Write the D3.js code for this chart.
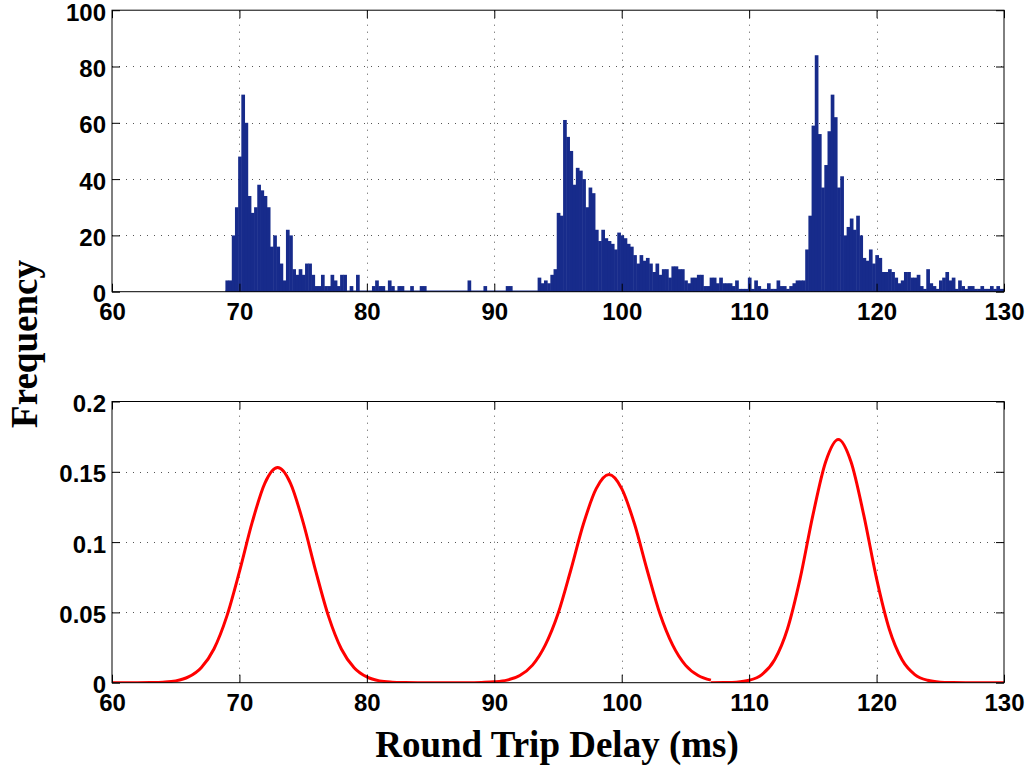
<!DOCTYPE html>
<html>
<head>
<meta charset="utf-8">
<script src="https://cdn.jsdelivr.net/npm/d3@7"></script>
<style>
  body { margin: 0; background: #fff; }
  svg { display: block; }
</style>
</head>
<body>
<div id="chart"></div>
<script>
// histogram: bin counts, 0.25 ms bins starting at 68.9 ms
const binStart = 68.9;
const binWidth = 0.25;
const countsFirst = [4, 4, 20, 30, 48, 70, 60, 34, 28, 30, 38, 36, 34, 30, 16, 20, 16, 10, 4, 22, 20,
  8, 6, 8, 6, 10, 10, 6, 2, 2, 6, 2, 2, 6, 4, 2, 6, 6, 0, 2, 0, 6, 0, 0, 0, 0, 2, 4, 2, 2, 0,
  4, 2, 0, 2, 2, 0, 0, 2, 0, 0, 2, 2];
const countsGap = [0, 0, 0, 0, 0, 0, 0, 0, 0, 0, 0, 0, 0, 4, 0, 0, 0, 0, 2, 0, 0, 0, 0, 0, 0,
  2, 2, 0, 0, 0, 0, 0, 0, 0, 0];
const countsSecond = [5, 3, 4, 3, 6, 8,
  28, 27, 61, 55, 50, 38, 44, 43, 40, 30, 37, 35, 22, 18, 22, 19, 18, 17, 15, 21, 20, 19, 17, 16,
  13, 10, 13, 11, 12, 10, 7, 10, 6, 8, 8, 5, 9, 9, 8, 8, 4, 3,
  5, 5, 6, 6, 2, 2, 5, 5, 3, 5, 3, 3, 3, 2, 4, 1, 1, 1, 5, 1, 4, 2, 1, 1, 3, 1, 1, 4, 2, 2,
  1, 2, 3, 4, 4, 4, 15];
const countsThird = [27, 59, 84, 56, 37, 45, 57, 70, 62, 37, 41, 20, 23, 26, 22, 27, 20, 12, 11, 15,
  10, 13, 12, 7, 7, 8, 7, 5, 3, 4, 7, 7, 5, 5, 6, 2, 1, 8, 3, 2, 1, 4, 5, 7, 4, 5, 1, 4, 2, 1,
  2, 2, 1, 1, 2, 1, 1, 2, 1, 2, 1, 1];

// fitted density, read at 1 ms steps (two pieces, jump at 107 ms)
const pdfStartA = 60;
const pdfA = [0, 0, 0, 0.0001, 0.0004, 0.0013, 0.0041, 0.0107, 0.024, 0.047, 0.079, 0.114, 0.142,
  0.153, 0.142, 0.114, 0.079, 0.047, 0.024, 0.0107, 0.0041, 0.0013, 0.0004, 0.0001, 0, 0, 0, 0, 0,
  0.0002, 0.0006, 0.0018, 0.0051, 0.0125, 0.0267, 0.049, 0.080, 0.113, 0.138, 0.148, 0.138, 0.113,
  0.080, 0.049, 0.0267, 0.0125, 0.0051, 0.0018];
const pdfStartB = 107;
const pdfB = [0, 0.0001, 0.0004, 0.0017, 0.0058, 0.0163, 0.038, 0.074, 0.119, 0.157, 0.173, 0.157,
  0.119, 0.074, 0.038, 0.0163, 0.0058, 0.0017, 0.0004, 0.0001, 0, 0, 0, 0];

const xTicks = [60, 70, 80, 90, 100, 110, 120, 130];
const yTicksTop = [0, 20, 40, 60, 80, 100];
const yTicksBottom = [0, 0.05, 0.1, 0.15, 0.2];

const width = 1031, height = 769;
const left = 112, right = 1004;
const tickFont = "'Liberation Sans', Arial, Helvetica, sans-serif";
const labelFont = "'Liberation Serif', 'Times New Roman', Times, serif";
const barColor = "#172b8b";

const svg = d3.select("#chart").append("svg")
  .attr("width", width)
  .attr("height", height);
svg.append("rect").attr("width", width).attr("height", height).attr("fill", "#fff");

const x = d3.scaleLinear().domain([60, 130]).range([left, right]);
const yTop = d3.scaleLinear().domain([0, 100]).range([291.7, 10.2]);
const yBot = d3.scaleLinear().domain([0, 0.2]).range([682.7, 401.5]);

function drawGrid(y, yTicks, id) {
  const [y0, y1] = y.range();
  const g = svg.append("g")
    .attr("stroke", "#555")
    .attr("stroke-width", 1)
    .attr("stroke-dasharray", "1,6");
  g.selectAll("line.v")
    .data(xTicks.slice(1, -1))
    .join("line")
    .attr("class", "v")
    .attr("x1", d => Math.round(x(d)) + 0.5)
    .attr("x2", d => Math.round(x(d)) + 0.5)
    .attr("y1", y0)
    .attr("y2", y1);
  g.selectAll("line.h")
    .data(yTicks.slice(1, -1))
    .join("line")
    .attr("class", "h")
    .attr("x1", left)
    .attr("x2", right)
    .attr("y1", d => Math.round(y(d)) + 0.5)
    .attr("y2", d => Math.round(y(d)) + 0.5);

  svg.append("clipPath").attr("id", id)
    .append("rect")
    .attr("x", left).attr("y", y1)
    .attr("width", right - left).attr("height", y0 - y1);
}

function drawAxes(y, yTicks) {
  const [y0, y1] = y.range();
  const bottom = svg.append("g")
    .attr("transform", `translate(0,${y0})`)
    .call(d3.axisBottom(x).tickValues(xTicks).tickSize(-8).tickSizeOuter(0).tickPadding(11));
  const top = svg.append("g")
    .attr("transform", `translate(0,${y1})`)
    .call(d3.axisTop(x).tickValues(xTicks).tickSize(-8).tickSizeOuter(0).tickFormat(""));
  const leftAx = svg.append("g")
    .attr("transform", `translate(${left},0)`)
    .call(d3.axisLeft(y).tickValues(yTicks).tickSize(-8).tickSizeOuter(0).tickPadding(6)
      .tickFormat(d => String(d)));
  const rightAx = svg.append("g")
    .attr("transform", `translate(${right},0)`)
    .call(d3.axisRight(y).tickValues(yTicks).tickSize(-8).tickSizeOuter(0).tickFormat(""));

  [bottom, top, leftAx, rightAx].forEach(a => {
    a.select(".domain").remove();
    a.selectAll("line").attr("stroke", "#000");
    a.selectAll("text")
      .attr("fill", "#000")
      .style("font-family", tickFont)
      .style("font-weight", "bold")
      .style("font-size", "24px");
  });
  leftAx.selectAll("text").attr("dy", "0.42em");

  svg.append("rect")
    .attr("x", left).attr("y", y1)
    .attr("width", right - left).attr("height", y0 - y1)
    .attr("fill", "none")
    .attr("stroke", "#000")
    .attr("stroke-width", 1);
}

// ---- top: histogram ----
drawGrid(yTop, yTicksTop, "clip-top");

const counts = countsFirst.concat(countsGap, countsSecond, countsThird);
const bins = counts.map((c, i) => ({ x0: binStart + i * binWidth, x1: binStart + (i + 1) * binWidth, n: c }));

const barG = svg.append("g").attr("clip-path", "url(#clip-top)");
barG.append("line")
  .attr("x1", x(bins[0].x0))
  .attr("x2", x(bins[bins.length - 1].x1))
  .attr("y1", yTop(0) - 0.5)
  .attr("y2", yTop(0) - 0.5)
  .attr("stroke", barColor)
  .attr("stroke-width", 1.5);
// small overlap so neighbouring bars read as one solid mass
barG.selectAll("rect")
  .data(bins.filter(d => d.n > 0))
  .join("rect")
  .attr("x", d => x(d.x0))
  .attr("y", d => yTop(d.n))
  .attr("width", d => x(d.x1) - x(d.x0) + 0.5)
  .attr("height", d => yTop(0) - yTop(d.n))
  .attr("fill", barColor);

drawAxes(yTop, yTicksTop);

// ---- bottom: density curve ----
drawGrid(yBot, yTicksBottom, "clip-bot");

const line = d3.line()
  .x(d => x(d[0]))
  .y(d => yBot(d[1]))
  .curve(d3.curveMonotoneX);

const curveG = svg.append("g").attr("clip-path", "url(#clip-bot)");
[[pdfStartA, pdfA], [pdfStartB, pdfB]].forEach(([start, vals]) => {
  curveG.append("path")
    .datum(vals.map((v, i) => [start + i, v]))
    .attr("d", line)
    .attr("fill", "none")
    .attr("stroke", "#ff0000")
    .attr("stroke-width", 3)
    .attr("stroke-linejoin", "round");
});

drawAxes(yBot, yTicksBottom);

// ---- labels ----
svg.append("text")
  .attr("transform", "translate(37,344) rotate(-90)")
  .attr("text-anchor", "middle")
  .style("font-family", labelFont)
  .style("font-weight", "bold")
  .style("font-size", "37px")
  .text("Frequency");

svg.append("text")
  .attr("x", 557)
  .attr("y", 757)
  .attr("text-anchor", "middle")
  .style("font-family", labelFont)
  .style("font-weight", "bold")
  .style("font-size", "37px")
  .text("Round Trip Delay (ms)");
</script>
</body>
</html>
